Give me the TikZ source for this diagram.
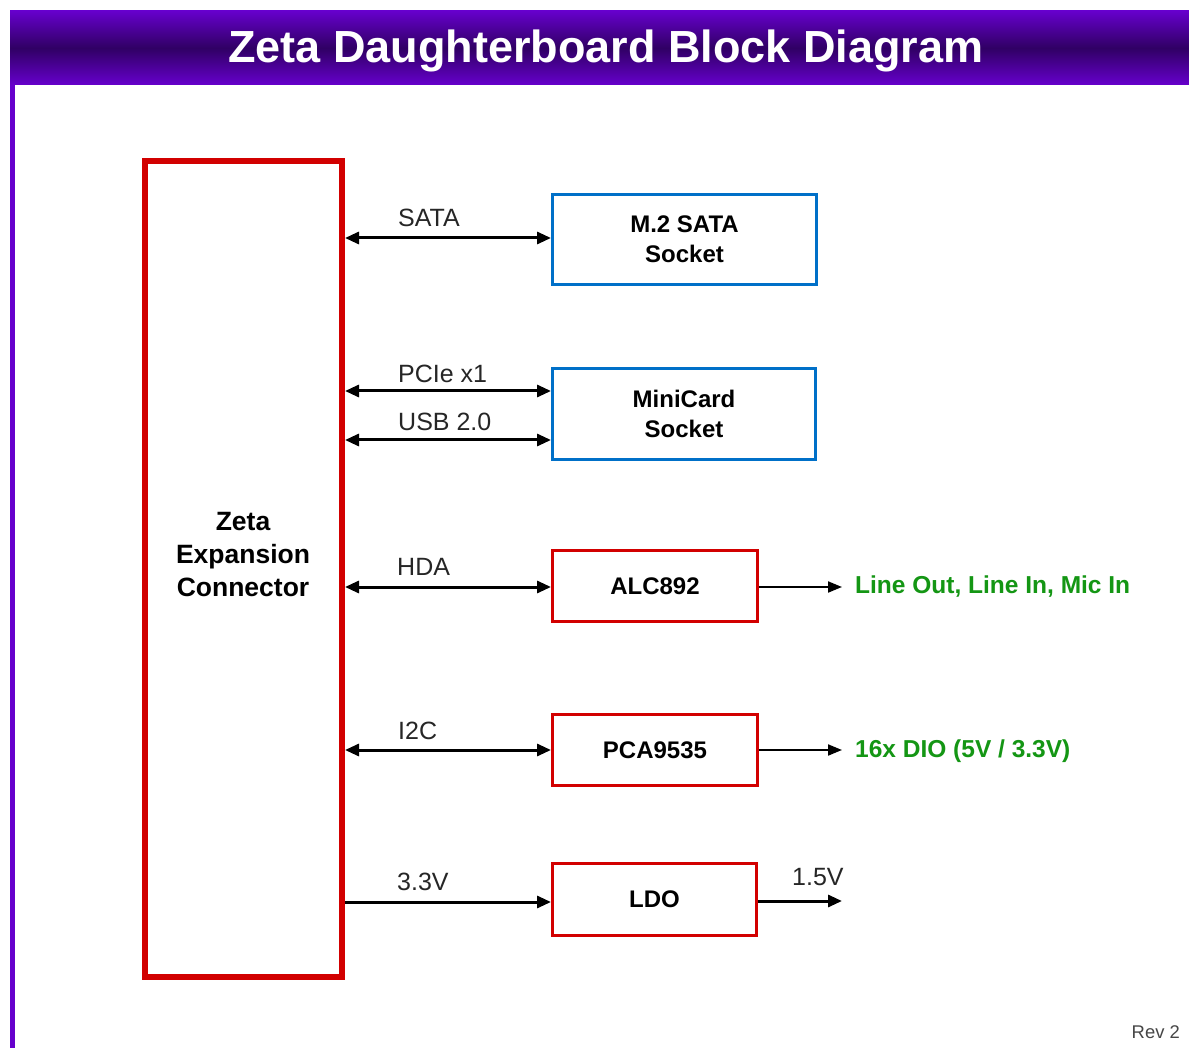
\documentclass[tikz,border=0pt]{standalone}
\usepackage{fontspec}
\setmainfont{Liberation Sans}
\usetikzlibrary{arrows.meta,calc}
\definecolor{barpurple}{RGB}{102,0,204}
\definecolor{bardark}{RGB}{48,0,100}
\definecolor{boxred}{RGB}{210,0,0}
\definecolor{boxblue}{RGB}{0,112,200}
\definecolor{outgreen}{RGB}{20,150,20}
\definecolor{revgray}{RGB}{70,70,70}
\tikzset{
  redbox/.style={draw=boxred,line width=3pt,rectangle,inner sep=0pt,align=center,
    font=\fontsize{24}{30}\selectfont\bfseries},
  bluebox/.style={draw=boxblue,line width=3pt,rectangle,inner sep=0pt,align=center,
    font=\fontsize{24}{30}\selectfont\bfseries},
  bus/.style={line width=3pt,{Triangle[length=14pt,width=12pt]}-{Triangle[length=14pt,width=12pt]}},
  onebus/.style={line width=3pt,-{Triangle[length=14pt,width=12pt]}},
  outarrow/.style={line width=2pt,-{Triangle[length=14pt,width=11pt]}},
  sig/.style={anchor=base west,inner sep=0pt,font=\fontsize{25}{30}\selectfont,text=black!85},
  greenlbl/.style={anchor=west,inner sep=0pt,font=\fontsize{24.5}{30}\selectfont\bfseries,text=outgreen}
}
\begin{document}
\begin{tikzpicture}[x=1pt,y=-1pt]
\useasboundingbox (0,0) rectangle (1189,1048);
\fill[white] (0,0) rectangle (1189,1048);
% frame
\fill[barpurple] (10,11) rectangle (15,1048);
\shade[top color=barpurple,bottom color=barpurple,middle color=bardark] (10,11) rectangle (1189,85);
\node[text=white,font=\fontsize{45}{50}\selectfont\bfseries,inner sep=0pt] (title) at (606,51) {Zeta Daughterboard Block Diagram};
% main connector
\node[draw=boxred,line width=6pt,minimum width=197pt,minimum height=816pt,inner sep=0pt] (zeta) at (243.5,569) {};
\node[align=center,inner sep=0pt,font=\fontsize{26.5}{33}\selectfont\bfseries] (ztext) at (243,555) {Zeta\\Expansion\\Connector};
% peripheral boxes
\node[bluebox,minimum width=264pt,minimum height=90pt] (m2) at (684.5,239.5) {M.2 SATA\\Socket};
\node[bluebox,minimum width=263pt,minimum height=91pt] (mini) at (684,414) {MiniCard\\Socket};
\node[redbox,minimum width=205pt,minimum height=71pt] (alc) at (655,586) {ALC892};
\node[redbox,minimum width=205pt,minimum height=71pt] (pca) at (655,750) {PCA9535};
\node[redbox,minimum width=204pt,minimum height=72pt] (ldo) at (654.5,899.5) {LDO};
% buses
\draw[bus] ([yshift=1.5pt]m2.west -| zeta.east) -- ([yshift=1.5pt]m2.west);
\draw[bus] ([yshift=23pt]mini.west -| zeta.east) -- ([yshift=23pt]mini.west);
\draw[bus] ([yshift=-26pt]mini.west -| zeta.east) -- ([yshift=-26pt]mini.west);
\draw[bus] ([yshift=-1pt]alc.west -| zeta.east) -- ([yshift=-1pt]alc.west);
\draw[bus] (pca.west -| zeta.east) -- (pca.west);
\draw[onebus] ([yshift=-2.5pt]ldo.west -| zeta.east) -- ([yshift=-2.5pt]ldo.west);
% bus labels
\node[sig] (lsata) at (398,227) {SATA};
\node[sig] (lpcie) at (398,383) {PCIe x1};
\node[sig] (lusb) at (398,431) {USB 2.0};
\node[sig] (lhda) at (397,575) {HDA};
\node[sig] (li2c) at (398,739) {I2C};
\node[sig] (l33) at (397,890) {3.3V};
% outputs
\coordinate (alcout) at (842,587);
\coordinate (pcaout) at (842,750);
\coordinate (ldoout) at (842,901);
\draw[outarrow] ([yshift=-1pt]alc.east) -- (alcout);
\draw[outarrow] (pca.east) -- (pcaout);
\draw[onebus] ([yshift=-1.5pt]ldo.east) -- (ldoout);
\node[greenlbl] (galc) at (855,587) {Line Out, Line In, Mic In};
\node[greenlbl] (gpca) at (855,751) {16x DIO (5V / 3.3V)};
\node[sig] (l15) at (792,885) {1.5V};
\node[anchor=base east,inner sep=0pt,font=\fontsize{18.4}{20}\selectfont,text=revgray] (rev) at (1180,1038) {Rev 2};
\end{tikzpicture}
\end{document}
